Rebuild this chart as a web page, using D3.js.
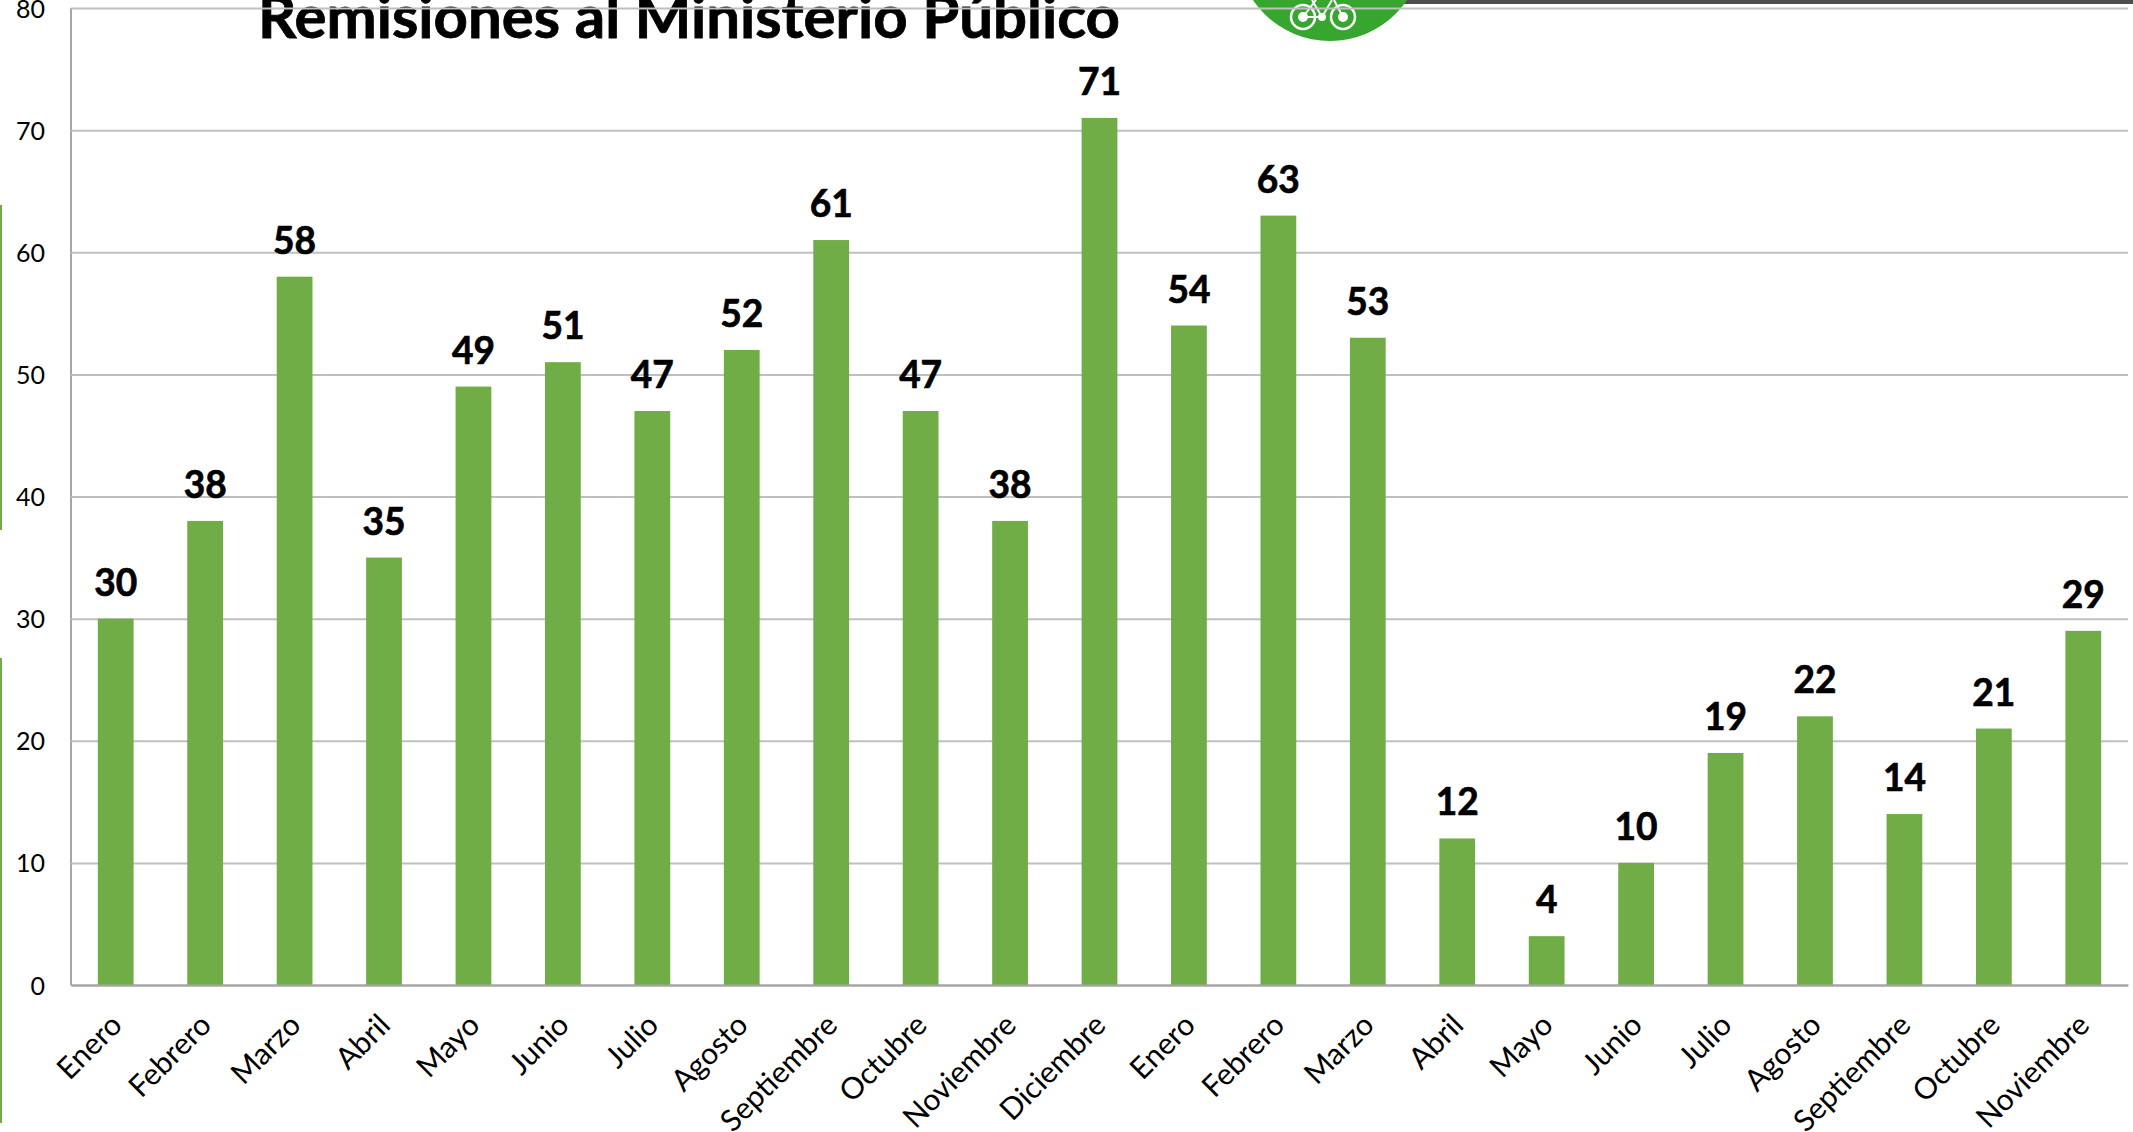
<!DOCTYPE html>
<html><head><meta charset="utf-8">
<script src="https://cdn.jsdelivr.net/npm/d3@7/dist/d3.min.js"></script>
<style>html,body{margin:0;padding:0;background:#fff;overflow:hidden}svg{display:block}text{font-family:Lato,sans-serif}</style>
</head><body><svg id="c" width="2133" height="1132"></svg>
<script>
const categories=["Enero","Febrero","Marzo","Abril","Mayo","Junio","Julio","Agosto","Septiembre","Octubre","Noviembre","Diciembre","Enero","Febrero","Marzo","Abril","Mayo","Junio","Julio","Agosto","Septiembre","Octubre","Noviembre"];
const values=[30,38,58,35,49,51,47,52,61,47,38,71,54,63,53,12,4,10,19,22,14,21,29];
const yTicks=[0,10,20,30,40,50,60,70,80];
const titleText="Remisiones al Ministerio Público";

const svg=d3.select("#c");
const L=71,R=2128,T=8,B=985;
const ids=categories.map((_,i)=>i);
const x=d3.scaleBand().domain(ids).range([L,R]).paddingInner(0.6).paddingOuter(0.3);
const y=d3.scaleLinear().domain([0,80]).range([B,T]);

svg.append("rect").attr("x",1400).attr("y",0).attr("width",733).attr("height",4).attr("fill","#4d4d4d");
svg.append("rect").attr("x",0).attr("y",205).attr("width",2).attr("height",325).attr("fill","#70ad47");
svg.append("rect").attr("x",0).attr("y",658).attr("width",2).attr("height",465).attr("fill","#70ad47");
const logo=svg.append("g");
logo.append("circle").attr("cx",1330).attr("cy",-52).attr("r",93).attr("fill","#36a62f");
[1303,1343].forEach(cx=>{
  logo.append("circle").attr("cx",cx).attr("cy",17).attr("r",12).attr("fill","none").attr("stroke","#fff").attr("stroke-width",2.5);
  logo.append("circle").attr("cx",cx).attr("cy",17).attr("r",5).attr("fill","#fff");
});
logo.append("circle").attr("cx",1322).attr("cy",17).attr("r",4).attr("fill","#fff");
logo.append("path").attr("d","M1303 17L1316 0M1343 17L1334 0M1303 17H1322L1332 0M1322 17L1312 0").attr("fill","none").attr("stroke","#fff").attr("stroke-width",2);

svg.append("text").attr("x",258).attr("y",38).attr("font-size",60).attr("font-weight",700)
  .attr("textLength",862).attr("lengthAdjust","spacingAndGlyphs").attr("fill","#000")
  .attr("stroke","#000").attr("stroke-width",0.8).text(titleText);

const gy=svg.append("g").attr("transform",`translate(${L},0)`)
  .call(d3.axisLeft(y).tickValues(yTicks).tickSize(-(R-L)).tickPadding(26));
gy.select(".domain").attr("stroke","#a6a6a6").attr("stroke-width",2).attr("d",`M0 ${T}V${B}`);
gy.selectAll(".tick line").attr("stroke","#bfbfbf").attr("stroke-width",2);
gy.selectAll(".tick").filter(d=>d===0).select("line").attr("stroke","#a6a6a6");
gy.selectAll("text").attr("font-size",25).attr("fill","#000").attr("font-family","Lato,sans-serif").attr("x",-26).attr("dy","0.36em");

svg.append("g").selectAll("rect").data(values).join("rect")
  .attr("x",(d,i)=>x(i)).attr("y",d=>y(d)).attr("width",x.bandwidth()).attr("height",d=>y(0)-y(d)).attr("fill","#70ad47");

svg.append("g").selectAll("text").data(values).join("text")
  .attr("x",(d,i)=>x(i)+x.bandwidth()/2).attr("y",d=>y(d)-23).attr("text-anchor","middle")
  .attr("font-size",38).attr("font-weight",700).attr("textLength",d=>String(d).length*21.5).attr("lengthAdjust","spacingAndGlyphs")
  .attr("fill","#000").attr("stroke","#000").attr("stroke-width",0.7).text(d=>d);

const gx=svg.append("g").attr("transform",`translate(0,${B})`)
  .call(d3.axisBottom(x).tickFormat(i=>categories[i]).tickSize(0));
gx.select(".domain").attr("stroke","#a6a6a6").attr("stroke-width",2);
gx.selectAll("text").attr("font-size",30).attr("fill","#000").attr("font-family","Lato,sans-serif")
  .attr("text-anchor","end").attr("x",0).attr("y",0).attr("dy",0)
  .attr("transform","translate(8,42) rotate(-45)");
</script></body></html>
